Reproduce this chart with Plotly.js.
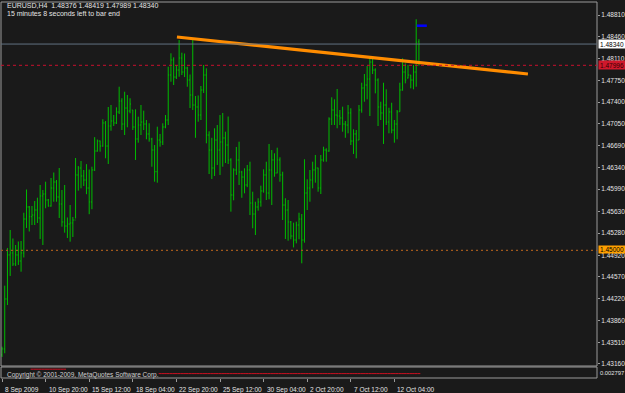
<!DOCTYPE html>
<html><head><meta charset="utf-8">
<script src="https://cdn.plot.ly/plotly-3.0.1.min.js"></script>
<style>html,body{margin:0;padding:0;background:#1a1a1a;overflow:hidden}#chart{width:625px;height:393px}</style>
</head><body><div id="chart"></div>
<script>
const symbolTitle = "EURUSD,H4  1.48376 1.48419 1.47989 1.48340";
const timerText = "15 minutes 8 seconds left to bar end";
const copyrightText = "Copyright \u00a9 2001-2009, MetaQuotes Software Corp.";

const open = [
1.43306,1.43403,1.44212,1.44925,1.44957,1.44779,1.44925,1.44827,1.44957,1.45507,
1.45702,1.45545,1.45572,1.45653,1.45524,1.45880,1.45912,1.45815,1.45718,1.46009,
1.46106,1.45864,1.45750,1.45459,1.45394,1.45426,1.45443,1.45491,1.46220,1.46333,
1.46204,1.46139,1.46009,1.45783,1.46301,1.46608,1.46770,1.46689,1.47062,1.46689,
1.47013,1.47094,1.47062,1.47240,1.47418,1.47045,1.47304,1.47256,1.47272,1.46997,
1.46803,1.47029,1.47078,1.47045,1.46884,1.46803,1.46624,1.46273,1.46786,1.46754,
1.46997,1.47110,1.47839,1.48082,1.47806,1.47920,1.48114,1.47887,1.47952,1.47758,
1.47515,1.47353,1.47321,1.47191,1.47596,1.47839,1.46867,1.46624,1.46333,1.46786,
1.46624,1.46754,1.46819,1.46705,1.46463,1.45896,1.46301,1.46463,1.46268,1.46187,
1.46058,1.46301,1.45766,1.45588,1.45702,1.45783,1.45961,1.46220,1.45928,1.46301,
1.46463,1.46252,1.46463,1.46220,1.45734,1.45653,1.45459,1.45232,1.45167,1.45410,
1.45507,1.45167,1.45928,1.46009,1.46139,1.46301,1.46333,1.46009,1.46463,1.46624,
1.46608,1.47126,1.47272,1.47191,1.47175,1.47143,1.47045,1.47029,1.47224,1.46770,
1.46884,1.46786,1.47272,1.47628,1.47677,1.47774,1.48049,1.47920,1.47758,1.47321,
1.47224,1.47353,1.47078,1.47240,1.46948,1.47045,1.47245,1.47596,1.47887,1.47790,
1.47839,1.47758,1.47887,1.48376];
const high = [
1.43440,1.44428,1.45038,1.45329,1.45192,1.45086,1.45143,1.45151,1.45609,1.45985,
1.45718,1.45718,1.45799,1.45852,1.46058,1.45977,1.46111,1.45831,1.46171,1.46260,
1.46139,1.46333,1.45977,1.46058,1.45532,1.45734,1.45540,1.46495,1.46365,1.46446,
1.46301,1.46395,1.46309,1.46354,1.46833,1.46794,1.46778,1.47122,1.47094,1.47321,
1.47353,1.47191,1.47316,1.47649,1.47462,1.47568,1.47515,1.47462,1.47272,1.47283,
1.47164,1.47353,1.47261,1.47110,1.47057,1.46822,1.46705,1.47002,1.46884,1.47057,
1.47191,1.47973,1.48190,1.48125,1.48001,1.48405,1.48200,1.48187,1.47973,1.47847,
1.48405,1.47499,1.47507,1.47661,1.48001,1.47947,1.46927,1.46822,1.46976,1.47029,
1.47191,1.47224,1.46921,1.47167,1.46490,1.46328,1.46673,1.46759,1.46288,1.46328,
1.46382,1.46435,1.45949,1.45787,1.45843,1.46047,1.46312,1.46435,1.46722,1.46624,
1.46571,1.46662,1.46506,1.46273,1.45843,1.45815,1.45475,1.45448,1.45464,1.45609,
1.45588,1.46474,1.46150,1.46301,1.46435,1.46544,1.46338,1.46544,1.46678,1.46652,
1.47154,1.47478,1.47445,1.47612,1.47272,1.47326,1.47094,1.47353,1.47300,1.46960,
1.46948,1.47353,1.47714,1.47855,1.47984,1.48135,1.48135,1.47947,1.47785,1.47406,
1.47714,1.47607,1.47309,1.47390,1.47110,1.47272,1.47714,1.48109,1.48028,1.48001,
1.47839,1.48001,1.48741,1.48419];
const low = [
1.43273,1.43333,1.44115,1.44585,1.44746,1.44746,1.44763,1.44654,1.44884,1.45362,
1.45305,1.45410,1.45410,1.45443,1.45184,1.45086,1.45681,1.45707,1.45707,1.45787,
1.45787,1.45524,1.45383,1.45286,1.45200,1.45140,1.45216,1.45516,1.45966,1.46004,
1.46042,1.45909,1.45585,1.45666,1.46285,1.46597,1.46597,1.46678,1.46490,1.46398,
1.46937,1.47013,1.47045,1.47207,1.46948,1.46867,1.46992,1.47219,1.46948,1.46463,
1.46743,1.46867,1.46948,1.46798,1.46759,1.46354,1.46111,1.46095,1.46678,1.46705,
1.46976,1.47029,1.47730,1.47677,1.47774,1.47811,1.47839,1.47806,1.47649,1.47304,
1.47272,1.46822,1.47083,1.47110,1.47547,1.46733,1.46236,1.46155,1.46204,1.46382,
1.46220,1.46354,1.46414,1.46398,1.45626,1.45810,1.46220,1.46058,1.45851,1.45923,
1.46023,1.45572,1.45357,1.45248,1.45642,1.45707,1.45933,1.45815,1.45826,1.45734,
1.46192,1.46247,1.46111,1.45491,1.45184,1.45156,1.45179,1.45047,1.45113,1.45179,
1.44790,1.45124,1.45653,1.45787,1.46004,1.46095,1.45949,1.45912,1.46435,1.46435,
1.46597,1.47029,1.47029,1.46976,1.47029,1.46921,1.46822,1.46895,1.46705,1.46560,
1.46490,1.46786,1.47228,1.47406,1.47445,1.47175,1.47855,1.47542,1.47013,1.47110,
1.46722,1.47029,1.46895,1.46895,1.46743,1.46798,1.47245,1.47585,1.47704,1.47783,
1.47623,1.47607,1.47649,1.47989];
const close = [
1.43403,1.44212,1.44925,1.44957,1.44779,1.44925,1.44827,1.44957,1.45507,1.45702,
1.45545,1.45572,1.45653,1.45524,1.45880,1.45912,1.45815,1.45718,1.46009,1.46106,
1.45864,1.45750,1.45459,1.45394,1.45426,1.45443,1.45491,1.46220,1.46333,1.46204,
1.46139,1.46009,1.45783,1.46301,1.46608,1.46770,1.46689,1.47062,1.46689,1.47013,
1.47094,1.47062,1.47240,1.47418,1.47045,1.47304,1.47256,1.47369,1.46997,1.46803,
1.47029,1.47078,1.47045,1.46884,1.46803,1.46624,1.46273,1.46786,1.46754,1.46997,
1.47110,1.47839,1.48082,1.47806,1.47920,1.48114,1.47887,1.47952,1.47758,1.47515,
1.47353,1.47321,1.47191,1.47596,1.47839,1.46867,1.46624,1.46333,1.46786,1.46624,
1.46754,1.46819,1.46705,1.46463,1.45896,1.46301,1.46463,1.46268,1.46187,1.46058,
1.46301,1.45766,1.45588,1.45702,1.45783,1.45961,1.46220,1.45928,1.46301,1.46463,
1.46252,1.46463,1.46220,1.45734,1.45653,1.45459,1.45232,1.45167,1.45410,1.45507,
1.45167,1.45928,1.46009,1.46139,1.46301,1.46333,1.46009,1.46463,1.46624,1.46608,
1.47126,1.47272,1.47191,1.47175,1.47143,1.47045,1.47029,1.47224,1.46770,1.46884,
1.46786,1.47272,1.47628,1.47677,1.47774,1.48049,1.47920,1.47758,1.47321,1.47224,
1.47353,1.47078,1.47240,1.46948,1.47045,1.47240,1.47596,1.47887,1.47758,1.47839,
1.47758,1.47887,1.48370,1.48340];

// sub-window indicator (small red dashes)
const subVals = [
null,null,null,null,null,null,null,null,null,null,
null,0.8,0.8,0.8,0.8,0.8,0.8,0.8,0.8,0.8,
0.8,0.8,0.8,0.8,null,null,null,null,null,null,
null,null,null,null,null,null,null,null,null,null,
null,null,null,null,null,null,null,null,null,null,
null,null,null,null,null,null,null,null,0.4,0.4,
0.4,0.4,0.4,0.4,0.4,0.4,0.4,0.4,0.4,0.4,
0.4,0.4,0.4,0.4,0.4,0.4,0.4,0.4,0.4,0.4,
0.4,0.4,0.4,0.4,0.4,0.4,0.4,0.4,0.4,0.4,
0.4,0.4,0.4,0.4,0.4,0.4,0.4,0.4,0.4,0.4,
0.4,0.4,0.4,0.4,0.4,0.4,0.4,0.4,0.4,0.4,
0.4,0.4,0.4,0.4,0.4,0.4,0.4,0.4,0.4,0.4,
0.4,0.4,0.4,0.4,0.4,0.4,0.4,0.4,0.4,0.4,
0.4,0.4,0.4,0.4,0.4,0.4,0.4,0.4,0.4,0.4,
0.4,0.4,0.4,0.4,0.4,0.4,0.4,0.4,0.4,0.4,
0.4,0.4,0.4,0.4];

const timeTickIdx = [0,16,32,48,64,80,96,112,128,144];
const timeTickText = ["8 Sep 2009","10 Sep 20:00","15 Sep 12:00","18 Sep 04:00","22 Sep 20:00",
  "25 Sep 12:00","30 Sep 04:00","2 Oct 20:00","7 Oct 12:00","12 Oct 04:00"];
const priceTicks = [1.48810,1.48460,1.48110,1.47750,1.47400,1.47050,1.46690,1.46340,1.45990,
  1.45630,1.45280,1.44920,1.44570,1.44220,1.43860,1.43510,1.43160];

const bidPrice = 1.48340;
const alertPrice = 1.47996;
const supportPrice = 1.45000;
const trendIdx = [64.2, 193.0];
const trendPrice = [1.48454, 1.47855];
const markIdx = [152.2, 155.9];
const markPrice = [1.48637, 1.48637];
const subLabel = "0.002797";

const idx = open.map((_, i) => i);
const FONT = 'Liberation Sans, Arial, sans-serif';
const TXT = '#e4e4e4';
const FR = '#9a9a9a';
const mainBottom = 12/376;
const subTop = 11/376;

const traces = [
  {type:'ohlc', x:idx, open:open, high:high, low:low, close:close,
   increasing:{line:{color:'#00bc00', width:1}}, decreasing:{line:{color:'#00bc00', width:1}},
   tickwidth:0.35, hoverinfo:'skip', xaxis:'x', yaxis:'y', showlegend:false},
  {type:'scatter', mode:'lines', x:trendIdx, y:trendPrice, line:{color:'#ff8c00', width:3.2},
   hoverinfo:'skip', showlegend:false, xaxis:'x', yaxis:'y'},
  {type:'scatter', mode:'lines', x:markIdx, y:markPrice, line:{color:'#0000ff', width:2.5},
   hoverinfo:'skip', showlegend:false, xaxis:'x', yaxis:'y'},
  {type:'scatter', mode:'markers', x:idx, y:subVals, marker:{symbol:'line-ew', size:2, line:{color:'#c81020', width:1}},
   hoverinfo:'skip', showlegend:false, xaxis:'x', yaxis:'y2'}
];

const annotations = [
  {xref:'paper', yref:'paper', x:4/596, y:(378-5.5)/376, xanchor:'left', yanchor:'middle', text:symbolTitle,
   showarrow:false, font:{family:FONT, size:7, color:TXT}},
  {xref:'paper', yref:'paper', x:4/596, y:(378-14)/376, xanchor:'left', yanchor:'middle', text:timerText,
   showarrow:false, font:{family:FONT, size:7, color:TXT}},
  {xref:'paper', yref:'paper', x:4/596, y:(378-374.5)/376, xanchor:'left', yanchor:'middle', text:copyrightText,
   showarrow:false, font:{family:FONT, size:6.5, color:'#d0d0d0'}},
  {xref:'paper', yref:'paper', x:1, xshift:1, y:(378-373)/376, xanchor:'left', yanchor:'middle', text:subLabel,
   showarrow:false, font:{family:FONT, size:5.8, color:TXT}},
  {xref:'paper', yref:'y', x:1, xshift:1, y:bidPrice, xanchor:'left', yanchor:'middle', text:bidPrice.toFixed(5),
   showarrow:false, bgcolor:'#ffffff', borderpad:0, width:26, height:8, font:{family:FONT, size:6.5, color:'#000000'}},
  {xref:'paper', yref:'y', x:1, xshift:1, y:alertPrice, xanchor:'left', yanchor:'middle', text:alertPrice.toFixed(5),
   showarrow:false, bgcolor:'#d0182c', borderpad:0, width:26, height:8, font:{family:FONT, size:6.5, color:'#300000'}},
  {xref:'paper', yref:'y', x:1, xshift:1, y:supportPrice, yshift:1, xanchor:'left', yanchor:'middle', text:supportPrice.toFixed(5),
   showarrow:false, bgcolor:'#ffa000', borderpad:0, width:26, height:7, font:{family:FONT, size:6.5, color:'#000000'}}
];
timeTickIdx.forEach((v, i) => annotations.push({
  xref:'x', yref:'paper', x:v, xshift:1, y:-6/376, xanchor:'left', yanchor:'top', text:timeTickText[i],
  showarrow:false, font:{family:FONT, size:6.5, color:TXT}}));

const shapes = [
  {type:'rect', xref:'paper', yref:'paper', x0:0, x1:1, y0:mainBottom, y1:1, line:{color:FR, width:1}},
  {type:'rect', xref:'paper', yref:'paper', x0:0, x1:1, y0:0, y1:subTop, line:{color:FR, width:1}},
  {type:'line', xref:'paper', yref:'y', x0:0, x1:1, y0:bidPrice, y1:bidPrice, line:{color:'#627282', width:1}},
  {type:'line', xref:'paper', yref:'y', x0:0, x1:1, y0:alertPrice, y1:alertPrice, line:{color:'#c8102e', width:1, dash:'dot'}},
  {type:'line', xref:'paper', yref:'y', x0:0, x1:1, y0:supportPrice, y1:supportPrice, line:{color:'#a0581c', width:1.2, dash:'2px,3px'}}
];

const layout = {
  width:625, height:393,
  margin:{l:1, r:28, t:2, b:15, pad:0},
  paper_bgcolor:'#1a1a1a', plot_bgcolor:'#1a1a1a',
  showlegend:false,
  xaxis:{range:[-0.367, 218.35], domain:[0,1], anchor:'y2', showgrid:false, zeroline:false, showline:false,
    rangeslider:{visible:false}, tickvals:timeTickIdx, ticktext:timeTickIdx.map(() => ''),
    ticks:'outside', ticklen:3, tickcolor:FR, tickwidth:1, fixedrange:true},
  yaxis:{domain:[mainBottom,1], range:[1.43127,1.49021], side:'right', anchor:'x', showgrid:false, zeroline:false,
    showline:false, tickvals:priceTicks, ticktext:priceTicks.map(v => v.toFixed(5)),
    ticks:'outside', ticklen:2, tickcolor:FR, tickfont:{family:FONT, size:6.5, color:TXT}, fixedrange:true},
  yaxis2:{domain:[0,subTop], range:[0,1], anchor:'x', showgrid:false, zeroline:false, showline:false,
    showticklabels:false, ticks:'', fixedrange:true},
  annotations:annotations,
  shapes:shapes
};

Plotly.newPlot('chart', traces, layout, {staticPlot:true, displayModeBar:false});
</script></body></html>
